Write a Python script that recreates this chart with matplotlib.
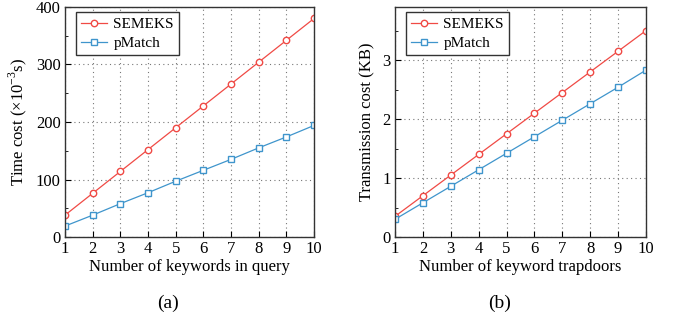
import matplotlib.pyplot as plt
from matplotlib.ticker import MultipleLocator

plt.rcParams['font.family'] = ['Liberation Serif', 'DejaVu Serif']
plt.rcParams['mathtext.fontset'] = 'custom'
plt.rcParams['mathtext.rm'] = 'Liberation Serif'

x = [1, 2, 3, 4, 5, 6, 7, 8, 9, 10]

# (a) time cost
time_semeks = [38, 76, 114, 152, 190, 228, 266, 304, 342, 380]
time_pmatch = [19, 38, 58, 77, 97, 116, 135, 155, 174, 194]

# (b) transmission cost
trans_semeks = [0.35, 0.70, 1.05, 1.40, 1.75, 2.10, 2.45, 2.80, 3.15, 3.50]
trans_pmatch = [0.30, 0.58, 0.86, 1.14, 1.42, 1.70, 1.98, 2.26, 2.54, 2.83]

red = '#f04a45'
blue = '#3f95cc'

fig = plt.figure(figsize=(6.76, 3.22), dpi=100)
W, H = 676, 322
ax1 = fig.add_axes([65 / W, 1 - 237 / H, (314 - 65) / W, (237 - 7) / H])
ax2 = fig.add_axes([395 / W, 1 - 237 / H, (646 - 395) / W, (237 - 7) / H])


def style(ax, ymax, major, minor, xlabel, ylabel):
    ax.set_xlim(1, 10)
    ax.set_ylim(0, ymax)
    ax.set_xticks(x)
    ax.yaxis.set_major_locator(MultipleLocator(major))
    ax.yaxis.set_minor_locator(MultipleLocator(minor))
    ax.tick_params(direction='in', labelsize=12, length=4, width=0.8, pad=3)
    ax.tick_params(which='minor', direction='in', length=2, width=0.6)
    ax.grid(True, which='major', linestyle=(0, (1, 3)), color='#777777', linewidth=0.8)
    ax.set_xlabel(xlabel, fontsize=12, labelpad=1)
    ax.set_ylabel(ylabel, fontsize=12, labelpad=5)
    for s in ax.spines.values():
        s.set_color('#333333')
        s.set_linewidth(1.0)
    leg = ax.legend(loc='upper left', fontsize=11, fancybox=False, framealpha=1,
                    edgecolor='#333333', borderpad=0.35, handlelength=1.7,
                    handletextpad=0.4, labelspacing=0.35, borderaxespad=0,
                    bbox_to_anchor=(0.044, 0.978))
    leg.get_frame().set_linewidth(1.0)


ax1.plot(x, time_semeks, '-o', color=red, lw=0.9, ms=4.6, mfc='white', mec=red, mew=1.0, label='SEMEKS')
ax1.plot(x, time_pmatch, '-s', color=blue, lw=0.9, ms=4.6, mfc='white', mec=blue, mew=1.0, label='pMatch')
style(ax1, 400, 100, 50, 'Number of keywords in query', r'Time cost (×10$^{-3}$s)')

ax2.plot(x, trans_semeks, '-o', color=red, lw=0.9, ms=4.6, mfc='white', mec=red, mew=1.0, label='SEMEKS')
ax2.plot(x, trans_pmatch, '-s', color=blue, lw=0.9, ms=4.6, mfc='white', mec=blue, mew=1.0, label='pMatch')
style(ax2, 3.9, 1, 0.5, 'Number of keyword trapdoors', 'Transmission cost (KB)')

fig.text(168 / W, 1 - 303 / H, '(a)', fontsize=14, ha='center', va='center')
fig.text(500 / W, 1 - 303 / H, '(b)', fontsize=14, ha='center', va='center')

fig.savefig('out.png', dpi=100)
